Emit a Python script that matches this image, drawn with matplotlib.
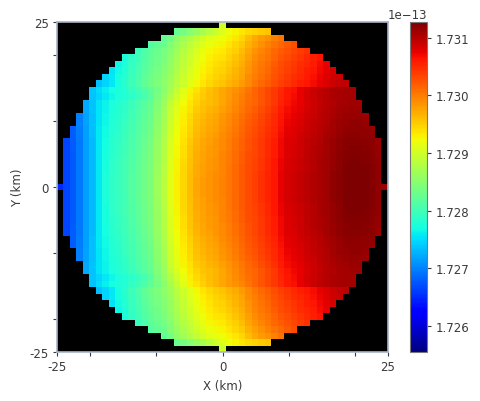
import numpy as np
import matplotlib
matplotlib.use('Agg')
import matplotlib.pyplot as plt
from matplotlib.ticker import ScalarFormatter

# values, in 1e-18 above 1.725e-13, row by row from y=0 up to y=25
# each row is centred on x=0, the picture looks mirrored about y=0
y00 = [149,165,177,194,216,233,258,274,288,294,303,312,322,333,343,364,384,412,430,446,461,473,480,485,490,496,503,512,521,530,536,545,554,562,574,583,587,592,596,601,606,611,616,621,626,627,627,626,624,618,614]
y01 = [165,177,194,216,233,258,274,288,294,303,312,322,333,343,364,384,412,430,446,461,473,480,485,490,496,503,512,521,530,536,545,554,562,574,583,587,592,596,601,606,611,616,621,626,627,627,626,624,618]
y02 = [165,177,194,216,233,258,274,288,294,303,312,322,333,343,363,383,411,429,445,460,472,479,484,489,495,503,512,521,530,536,545,554,562,574,583,587,592,596,601,606,611,616,621,626,627,627,626,624,618]
y03 = [165,177,194,216,233,258,273,287,293,302,311,321,332,342,362,382,410,428,444,459,471,478,483,488,494,502,511,520,529,535,544,553,561,573,582,586,591,595,600,605,610,615,620,625,626,626,625,623,617]
y04 = [165,177,194,216,233,257,272,286,292,301,310,320,331,341,361,381,409,426,442,458,470,477,482,487,494,501,510,519,528,534,543,552,560,572,581,585,590,595,600,605,610,615,620,624,625,625,624,622,616]
y05 = [165,177,194,216,233,257,272,285,291,300,309,319,330,340,360,380,408,425,441,457,469,476,481,486,493,500,509,518,527,533,542,551,559,571,580,584,589,594,599,604,609,614,619,623,624,624,623,621,615]
y06 = [166,178,195,216,233,257,271,284,290,299,308,318,329,339,359,379,406,424,440,455,467,474,480,485,492,499,508,517,526,532,541,550,558,570,579,583,588,593,598,603,608,613,618,622,623,623,622,620,614]
y07 = [166,178,195,216,233,257,270,283,289,298,307,317,327,337,358,378,405,422,438,453,465,473,479,484,491,498,507,516,525,531,540,549,557,569,578,582,587,592,597,602,607,612,617,621,622,622,621,619,613]
y08 = [179,196,217,234,257,269,282,287,296,305,315,325,335,356,376,403,420,436,450,462,470,476,481,489,496,505,514,523,529,538,547,555,567,576,580,585,590,595,600,605,610,615,619,620,620,618,616]
y09 = [179,197,218,234,257,268,280,285,295,303,313,323,333,354,374,401,418,434,448,460,468,474,479,487,494,503,512,521,527,536,545,553,565,574,578,583,588,593,598,603,608,613,617,618,618,617,615]
y10 = [198,219,235,256,267,279,284,293,302,312,321,331,352,372,399,416,432,446,458,466,472,477,485,492,501,510,519,525,534,543,551,563,572,576,581,587,592,597,602,607,612,615,616,616,615]
y11 = [199,220,235,256,266,277,282,291,300,310,319,329,350,369,396,413,429,443,455,463,469,474,482,489,498,507,516,522,531,540,549,561,570,574,579,586,591,596,601,606,610,613,614,614,613]
y12 = [221,236,255,265,276,281,289,298,308,317,327,347,367,393,410,426,439,451,459,465,470,478,486,495,504,513,519,528,537,546,558,567,572,577,584,589,594,600,604,608,611,612,612]
y13 = [222,237,254,264,274,279,287,296,306,315,325,344,363,388,406,422,435,447,455,461,466,474,482,491,500,509,515,524,533,542,554,564,569,574,582,587,592,598,602,606,609,610,610]
y14 = [236,246,258,266,274,279,287,295,305,317,340,358,378,397,415,431,443,452,460,466,473,481,490,498,507,515,523,532,541,552,562,568,575,583,589,594,598,603,606,608,608]
y15 = [238,250,262,270,276,280,290,300,310,322,336,352,372,392,410,427,438,449,458,465,473,480,488,495,505,515,524,532,540,550,560,566,574,582,590,594,598,604,606,608,608]
y16 = [234,247,258,271,284,297,309,322,333,343,353,367,383,398,412,425,436,445,452,456,464,472,481,492,502,511,519,528,536,543,550,556,562,568,574,581,587,592,595]
y17 = [246,257,270,282,295,307,319,330,340,350,364,379,395,409,421,432,441,448,452,460,468,477,489,499,508,516,525,533,540,547,553,559,565,572,579,585,590]
y18 = [256,268,280,293,305,317,327,337,347,360,376,392,405,417,428,437,444,448,456,464,473,486,496,505,513,522,530,537,544,550,556,562,570,577,583]
y19 = [266,278,291,303,314,325,334,344,357,373,388,401,413,424,433,440,444,452,460,469,483,493,502,510,519,527,534,541,547,553,559,567,575]
y20 = [275,288,300,311,322,331,340,353,369,384,397,409,420,429,435,439,447,455,465,479,489,498,506,515,523,530,537,543,549,556,564]
y21 = [296,308,319,328,337,349,365,380,392,404,415,424,430,434,442,450,460,474,485,494,502,511,519,526,533,539,545]
y22 = [314,323,332,344,360,374,386,398,409,418,424,428,436,444,454,468,479,488,496,505,513,520,527]
y23 = [325,336,352,366,378,390,401,410,416,420,428,436,446,460,471,480,488,497,505]
y24 = [326,336,348,360,372,384,398,410,420,428,436,442,447,452,456]
y25 = [395]

rows = [y00,y01,y02,y03,y04,y05,y06,y07,y08,y09,y10,y11,y12,y13,y14,y15,y16,y17,y18,y19,y20,y21,y22,y23,y24,y25]

axis_ticks = [-25,-20,-10,0,10,20,25]
axis_labels = ['-25','','','0','','','25']
cbar_ticks = [1.726e-13,1.727e-13,1.728e-13,1.729e-13,1.730e-13,1.731e-13]
vmin, vmax = 1.72555e-13, 1.73127e-13

# black background shows through outside the disc
grid = np.full((51,51), np.nan)
for k, row in enumerate(rows):
    half = (len(row)-1)//2
    vals = (1.725 + np.array(row)*1e-5)*1e-13
    grid[25+k, 25-half:25+half+1] = vals
    grid[25-k, 25-half:25+half+1] = vals

text_color = '#3a3a3a'
edge_color = '#a9b4c8'

fig = plt.figure(figsize=(4.8,4.02), dpi=100)
ax = fig.add_axes([57/480, 49/402, 331/480, 330/402])
ax.set_facecolor('black')
im = ax.imshow(grid, origin='lower', extent=[-25,25,-25,25], cmap='jet', vmin=vmin, vmax=vmax,
               interpolation='nearest', aspect='auto')

ax.set_xticks(axis_ticks)
ax.set_xticklabels(axis_labels)
ax.set_yticks(axis_ticks)
ax.set_yticklabels(axis_labels)
ax.tick_params(length=3, width=0.8, labelsize=8.5, colors=text_color, pad=3)
ax.set_xlabel('X (km)', fontsize=8.5, color=text_color, labelpad=4)
ax.set_ylabel('Y (km)', fontsize=8.5, color=text_color, labelpad=4)
for s in ax.spines.values():
    s.set_color(edge_color)
    s.set_linewidth(1.2)

cax = fig.add_axes([410/480, 49/402, 17/480, 330/402])
fmt = ScalarFormatter(useOffset=False)
fmt.set_powerlimits((0,0))
cb = fig.colorbar(im, cax=cax, format=fmt)
cb.set_ticks(cbar_ticks)
cb.ax.tick_params(length=3, width=0.8, labelsize=8.5, colors=text_color, pad=3)
cb.ax.yaxis.get_offset_text().set_fontsize(8.5)
cb.ax.yaxis.get_offset_text().set_color(text_color)
cb.outline.set_edgecolor('#777777')
cb.outline.set_linewidth(0.8)

fig.savefig('out.png', dpi=100)
